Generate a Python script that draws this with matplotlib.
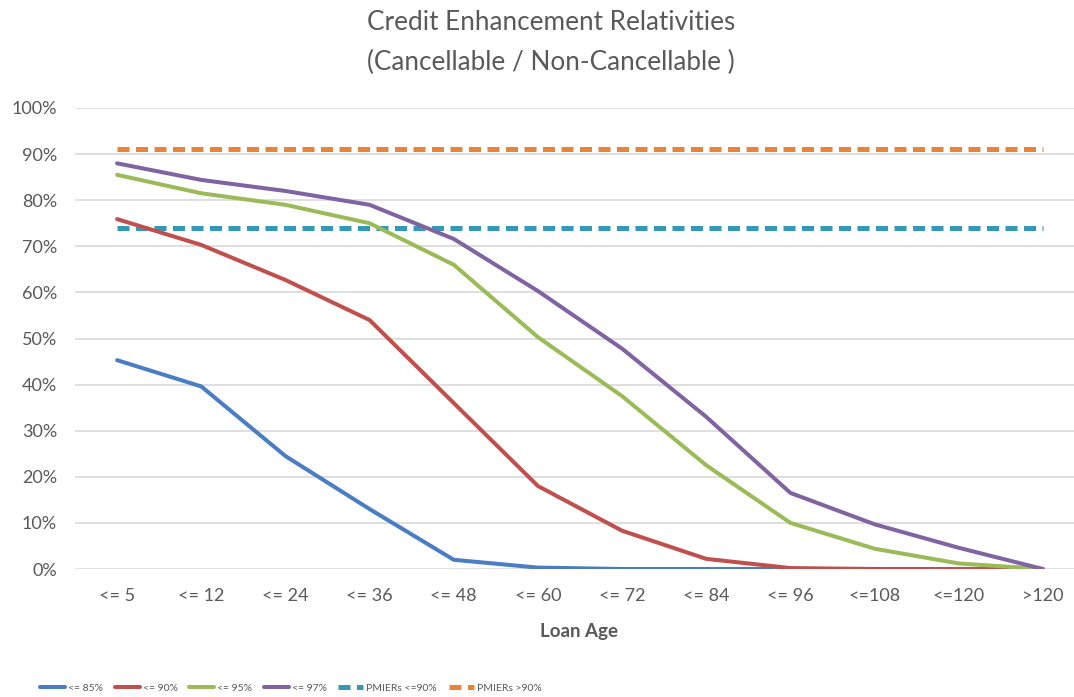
import matplotlib
matplotlib.use("Agg")
import matplotlib.pyplot as plt
from matplotlib.ticker import PercentFormatter

categories = ["<= 5", "<= 12", "<= 24", "<= 36", "<= 48", "<= 60", "<= 72",
              "<= 84", "<= 96", "<=108", "<=120", ">120"]
ltv_85 = [45.3, 39.6, 24.5, 13.0, 2.0, 0.3, 0.0, 0.0, 0.0, 0.0, 0.0, 0.0]
ltv_90 = [75.9, 70.3, 62.7, 54.0, 36.0, 18.0, 8.3, 2.2, 0.2, 0.0, 0.0, 0.0]
ltv_95 = [85.5, 81.5, 79.0, 75.0, 66.0, 50.3, 37.5, 22.5, 10.0, 4.4, 1.2, 0.0]
ltv_97 = [88.0, 84.4, 82.0, 79.0, 71.6, 60.3, 47.8, 33.0, 16.5, 9.7, 4.6, 0.0]
pmiers_le90 = [74.0] * len(categories)
pmiers_gt90 = [91.0] * len(categories)

labels = ["<= 85%", "<= 90%", "<= 95%", "<= 97%", "PMIERs <=90%", "PMIERs >90%"]
colors = ["#4A7DC4", "#C0504D", "#9BBB59", "#8064A2", "#3399B5", "#E8843A"]

plt.rcParams['font.family'] = ['Lato', 'DejaVu Sans']
text_color = "#595959"

fig = plt.figure(figsize=(10.74, 6.97), dpi=100)
W, H = 1074, 697
ax = fig.add_axes([75 / W, 1 - 569 / H, 1010 / W, (569 - 108) / H])

x = list(range(len(categories)))
series = [ltv_85, ltv_90, ltv_95, ltv_97]
handles = []
for s, c, lab in zip(series, colors[:4], labels[:4]):
    h, = ax.plot(x, s, color=c, lw=2.9, label=lab, solid_capstyle='round', zorder=3)
    handles.append(h)
for s, c, lab in zip([pmiers_le90, pmiers_gt90], colors[4:], labels[4:]):
    h, = ax.plot(x, s, color=c, lw=3.6, label=lab, dashes=(2.4, 1.3), zorder=2)
    handles.append(h)

ax.set_xlim(-0.5, len(categories) - 0.5)
ax.set_ylim(0, 100)
ax.set_yticks(range(0, 101, 10))
ax.yaxis.set_major_formatter(PercentFormatter(decimals=0))
ax.set_xticks(x)
ax.set_xticklabels(categories)
ax.grid(axis='y', color='#D9D9D9', lw=1.2, zorder=0)
for sp in ax.spines.values():
    sp.set_visible(False)
ax.tick_params(length=0, labelsize=13, labelcolor=text_color)
ax.tick_params(axis='x', pad=14)
ax.tick_params(axis='y', pad=13)

fig.text(551 / W, 1 - 22 / H, "Credit Enhancement Relativities", ha='center', va='center',
         fontsize=18.8, color=text_color)
fig.text(551 / W, 1 - 62 / H, "(Cancellable / Non-Cancellable )", ha='center', va='center',
         fontsize=18.8, color=text_color)
fig.text(579 / W, 1 - 632 / H, "Loan Age", ha='center', va='center', fontsize=13.5,
         fontweight='bold', color=text_color)

leg = fig.legend(handles=handles, labels=labels, loc='center left',
                 bbox_to_anchor=(36 / W, 1 - 688 / H),
                 ncol=6, frameon=False, handlelength=2.4, handletextpad=0.3,
                 columnspacing=1.1, labelcolor=text_color, borderaxespad=0,
                 prop={'size': 7.5})

fig.savefig("out.png", dpi=100)
